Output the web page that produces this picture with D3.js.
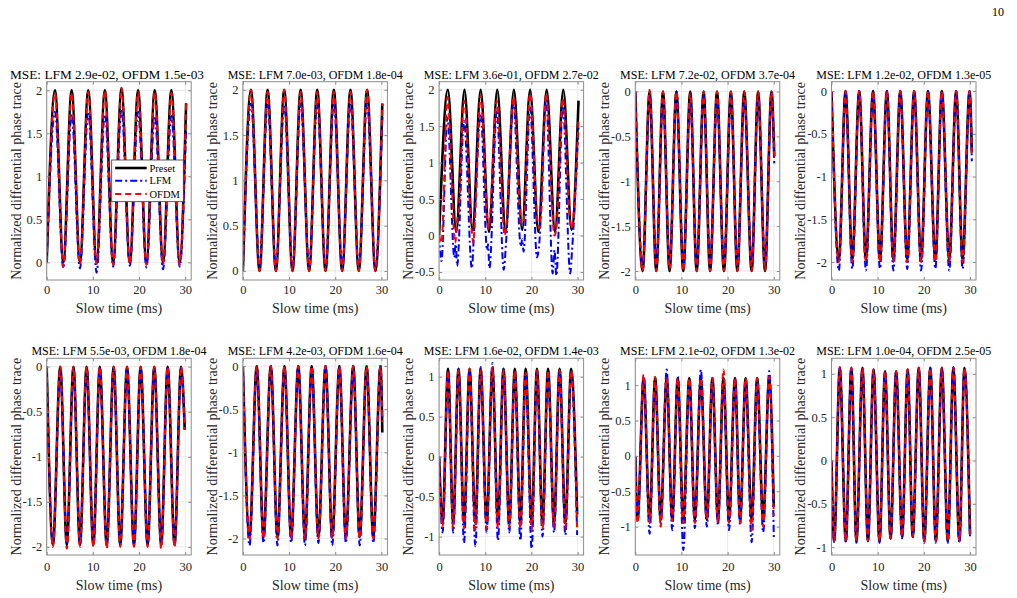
<!DOCTYPE html>
<html><head><meta charset="utf-8">
<script src="https://cdn.jsdelivr.net/npm/d3@7"></script>
<style>
body{margin:0;background:#fff}
svg{display:block}
text{font-family:"Liberation Serif","Times New Roman",serif}
</style>
</head><body>
<svg id="c" width="1017" height="598"></svg>
<script>
// ---------------- DATA ----------------
const seriesNames = ["Preset", "LFM", "OFDM"];
const titles = [
  "MSE: LFM 2.9e-02, OFDM 1.5e-03", "MSE: LFM 7.0e-03, OFDM 1.8e-04", "MSE: LFM 3.6e-01, OFDM 2.7e-02",
  "MSE: LFM 7.2e-02, OFDM 3.7e-04", "MSE: LFM 1.2e-02, OFDM 1.3e-05",
  "MSE: LFM 5.5e-03, OFDM 1.8e-04", "MSE: LFM 4.2e-03, OFDM 1.6e-04", "MSE: LFM 1.6e-02, OFDM 1.4e-03",
  "MSE: LFM 2.1e-02, OFDM 1.3e-02", "MSE: LFM 1.0e-04, OFDM 2.5e-05"
];
const xLabel = "Slow time (ms)";
const yLabel = "Normalized differential phase trace";
const xTicks = [0, 10, 20, 30];
const xLim = [0, 31.3];
const yLims = [[-0.205, 2.1], [-0.1, 2.09], [-0.61, 2.11], [-2.1, 0.11], [-2.21, 0.11],
               [-2.09, 0.093], [-2.19, 0.09], [-1.23, 1.23], [-1.4, 1.38], [-1.09, 1.18]];
const yTicks = [[0, 0.5, 1, 1.5, 2], [0, 0.5, 1, 1.5, 2], [-0.5, 0, 0.5, 1, 1.5, 2],
                [-2, -1.5, -1, -0.5, 0], [-2, -1.5, -1, -0.5, 0], [-2, -1.5, -1, -0.5, 0], [-2, -1.5, -1, -0.5, 0],
                [-1, -0.5, 0, 0.5, 1], [-1, -0.5, 0, 0.5, 1], [-1, -0.5, 0, 0.5, 1]];

// Panel 1
const t1 = [0,1.8,3.6,5.4,7.2,9.0,10.8,12.6,14.4,16.2,18.0,19.8,21.6,23.4,25.2,27.0,28.8,30.2];
const preset1 = [0,2.0,0.0,2.0,0.0,2.0,0.0,2.0,0.0,2.02,0.0,2.0,0.0,2.0,0.0,2.0,0.0,1.85];
const lfm1 = [0,1.75,-0.07,1.72,-0.07,1.75,-0.12,1.72,-0.05,1.78,-0.04,1.75,-0.06,1.7,-0.08,1.7,-0.05,1.55];
const ofdm1 = [0,1.97,-0.05,1.97,-0.02,1.98,-0.02,2.0,-0.03,2.03,-0.02,1.98,-0.03,1.98,-0.03,1.97,-0.03,1.85];
// Panel 2
const t2 = [0,1.75,3.6,5.35,7.15,8.95,10.75,12.5,14.35,16.1,17.9,19.7,21.5,23.3,25.1,26.9,28.7,30.2];
const preset2 = [0,2,0,2,0,2,0,2,0,2,0,2,0,2,0,2,0,1.85];
const lfm2 = [0,1.85,0.05,1.85,0.05,1.83,0.05,1.85,0.05,1.85,0.05,1.85,0.05,1.85,0.05,1.85,0.05,1.7];
const ofdm2 = [0,2.0,0.0,1.98,0.0,2.0,0.0,1.98,0.0,1.98,0.0,1.98,0.0,1.98,0.0,2.0,0.0,1.85];
// Panel 3 (noisy estimates, own sample times)
const t3 = [0,1.9,3.7,5.5,7.25,9.0,10.8,12.6,14.4,16.2,18.0,19.7,21.5,23.3,25.1,26.9,28.7,30.2];
const preset3 = [0,2,0.05,2,0.08,2,0.05,2,0.05,2,0.08,2,0.05,2,0.05,2,0.08,1.85];
const lfm3 = [[0,0],[0.5,-0.35],[1.8,1.62],[3.3,-0.3],[3.6,-0.12],[3.9,-0.42],[5.4,1.57],[7.1,-0.45],[7.6,0.1],[9.0,1.67],
  [10.4,-0.2],[10.6,-0.12],[10.9,-0.45],[12.5,1.72],[14.0,-0.47],[14.5,-0.1],[16.1,1.82],[17.7,-0.15],[18.0,-0.05],
  [18.3,-0.22],[19.7,1.77],[21.2,-0.3],[21.6,-0.18],[23.2,1.87],[24.6,-0.52],[25.0,-0.2],[25.4,-0.55],[26.8,1.78],
  [28.4,-0.52],[28.8,-0.2],[30.2,1.5]];
const ofdm3 = [[0,0],[0.5,-0.1],[1.8,1.9],[3.5,-0.1],[3.9,0.2],[4.2,0.3],[5.4,1.85],[7.1,0.05],[7.4,-0.1],[7.8,0.25],
  [9.0,1.92],[10.7,0.1],[11.0,0.25],[12.5,1.85],[14.2,0.0],[14.5,0.1],[16.1,1.9],[17.9,0.15],[18.3,0.2],[19.7,1.95],
  [21.3,0.2],[21.7,0.1],[22.1,0.3],[23.2,1.95],[25.0,0.0],[25.4,0.1],[26.8,1.88],[28.6,0.1],[29.0,0.2],[30.2,1.6]];
// Panel 4
const t4 = [0,1.58,3.1,4.54,6.0,7.42,8.9,10.4,11.9,13.3,14.8,16.2,17.7,19.2,20.7,22.1,23.6,25.2,26.6,28.1,29.5,30.1];
const preset4 = [0,-2,0,-2,0,-2,0,-2,0,-2,0,-2,0,-2,0,-2,0,-2,0,-2,0,-0.72];
const lfm4 = [0,-1.95,-0.05,-1.93,-0.08,-1.95,0,-1.93,-0.1,-1.95,-0.05,-1.95,-0.08,-1.93,-0.05,-1.95,-0.08,-1.9,-0.05,-1.93,-0.02,-0.8];
const ofdm4 = [0,-2,0.02,-2,0,-1.98,0,-2,-0.02,-2,0,-2,0,-2,0,-2,0,-2,0,-2,0,-0.72];
// Panel 5
const t5 = [0,1.59,3.04,4.5,6.0,7.46,9.0,10.5,12.0,13.4,14.9,16.4,17.9,19.4,20.9,22.5,23.9,25.5,27.0,28.4,29.9,30.4];
const preset5 = [0,-1.97,0,-1.97,0,-1.97,0,-1.97,0,-1.97,0,-1.97,0,-1.97,0,-1.97,0,-1.97,0,-1.97,0,-0.72];
const lfm5 = [0,-2.1,0,-2.08,0,-2.1,0,-2.08,0,-2.1,0,-2.08,0,-2.1,0,-2.08,0,-2.1,0,-2.08,0,-0.82];
const ofdm5 = [0,-2,0,-2,0,-2,0,-2,0,-2,0,-2,0,-2,0,-2,0,-2,0,-2,0,-0.72];
// Panel 6
const t6 = [0,1.35,2.93,4.36,5.79,7.21,8.64,10.1,11.5,13.0,14.5,15.93,17.4,18.9,20.35,21.86,23.3,24.8,26.2,27.7,29.1,29.9];
const preset6 = [0,-1.98,0,-1.98,0,-1.98,0,-1.98,0,-1.98,0,-1.98,0,-1.98,0,-1.98,0,-1.98,0,-1.98,0,-0.7];
const lfm6 = [0,-1.97,-0.02,-1.96,-0.02,-1.97,-0.02,-1.96,-0.02,-1.97,-0.02,-1.96,-0.02,-1.97,-0.02,-1.96,-0.02,-1.97,-0.02,-1.96,-0.02,-0.7];
const ofdm6 = [0,-2.0,0,-2.02,0,-2.0,0,-2.0,0,-2.02,0,-2.0,0,-2.0,0,-2.0,0,-2.02,0,-2.0,0,-0.7];
// Panel 7
const t7 = [0,1.44,3.0,4.46,6.04,7.48,9.0,10.45,12.0,13.45,14.9,16.35,17.9,19.35,20.9,22.3,23.9,25.3,26.8,28.25,29.8,30.2];
const preset7 = [0,-1.98,0,-1.98,0,-1.98,0,-1.98,0,-1.98,0,-1.98,0,-1.98,0,-1.98,0,-1.98,0,-1.98,0,-0.77];
const lfm7 = [0,-2.08,-0.02,-2.05,0,-2.08,-0.02,-2.05,0,-2.08,-0.02,-2.05,0,-2.08,-0.02,-2.05,0,-2.08,-0.02,-2.05,0,-0.6];
const ofdm7 = [0,-2.0,0,-2.0,0,-2.0,0,-2.0,0,-2.0,0,-2.0,0,-2.0,0,-2.0,0,-2.0,0,-2.0,0,-0.65];
// Panel 8
const t8 = [0,0.75,1.93,3.05,4.2,5.4,6.6,7.85,9.0,10.3,11.55,12.75,13.95,15.2,16.4,17.6,18.75,20.05,21.2,22.4,23.6,24.9,26.1,27.35,28.6,29.9];
const preset8 = [0,-0.83,1.1,-0.83,1.1,-0.83,1.1,-0.83,1.1,-0.83,1.1,-0.83,1.1,-0.83,1.1,-0.83,1.1,-0.83,1.1,-0.83,1.1,-0.83,1.1,-0.83,1.1,-0.72];
const lfm8 = [0,-0.95,1.05,-0.95,1.1,-1.08,1.1,-1.12,1.12,-0.95,1.17,-1.05,1.1,-0.95,1.05,-1.05,1.02,-1.15,1.05,-1.0,1.05,-0.95,1.08,-0.98,1.05,-0.98];
const ofdm8 = [0,-0.88,1.08,-0.9,1.08,-0.9,1.1,-0.92,1.08,-0.9,1.12,-0.9,1.08,-0.88,1.08,-0.9,1.05,-0.92,1.08,-0.9,1.08,-0.88,1.08,-0.9,1.08,-0.9];
// Panel 9
const t9 = [0,0.5,1.8,3.1,4.3,5.5,6.8,8.0,9.2,10.4,11.7,12.9,14.2,15.5,16.7,17.9,19.1,20.3,21.6,22.7,23.9,25.2,26.4,27.7,29.0,30.0];
const preset9 = [0,-0.9,1.1,-0.9,1.1,-0.9,1.1,-0.9,1.1,-0.9,1.1,-0.9,1.1,-0.9,1.1,-0.9,1.1,-0.9,1.1,-0.9,1.1,-0.9,1.1,-0.9,1.1,-0.72];
const lfm9 = [0,-0.9,1.12,-1.1,1.1,-0.96,1.22,-1.05,1.12,-1.33,1.05,-1.02,1.22,-1.0,1.08,-0.98,1.02,-1.05,1.08,-0.98,1.05,-1.22,1.05,-1.08,1.2,-1.15];
const ofdm9 = [0,-0.95,1.15,-0.95,1.12,-1.0,1.1,-0.92,1.1,-0.95,1.1,-0.95,1.1,-0.9,1.1,-0.95,1.22,-0.95,1.1,-0.95,1.1,-1.05,1.1,-1.0,1.12,-0.85];
// Panel 10
const t10 = [0,0.58,1.8,3.1,4.3,5.4,6.7,7.9,9.1,10.4,11.6,12.8,14.0,15.3,16.5,17.6,18.9,20.1,21.4,22.6,23.9,25.2,26.4,27.7,28.8,30.0];
const preset10 = [0,-0.93,1.07,-0.93,1.07,-0.93,1.07,-0.93,1.05,-0.93,1.03,-0.9,1.03,-0.88,1.05,-0.88,1.07,-0.93,1.07,-0.93,1.07,-0.93,1.07,-0.93,1.07,-0.85];
const lfm10 = [0,-0.95,1.07,-0.95,1.07,-0.95,1.05,-0.93,1.05,-0.95,1.02,-0.9,1.03,-0.9,1.05,-0.9,1.07,-0.95,1.07,-0.95,1.07,-0.95,1.08,-0.95,1.07,-0.88];
const ofdm10 = [0,-0.93,1.08,-0.93,1.07,-0.93,1.07,-0.93,1.05,-0.93,1.03,-0.9,1.03,-0.88,1.05,-0.88,1.07,-0.93,1.07,-0.93,1.07,-0.93,1.07,-0.93,1.07,-0.85];

const panelTimes = [t1, t2, t3, t4, t5, t6, t7, t8, t9, t10];
const presetVals = [preset1, preset2, preset3, preset4, preset5, preset6, preset7, preset8, preset9, preset10];
const lfmVals = [lfm1, lfm2, lfm3, lfm4, lfm5, lfm6, lfm7, lfm8, lfm9, lfm10];
const ofdmVals = [ofdm1, ofdm2, ofdm3, ofdm4, ofdm5, ofdm6, ofdm7, ofdm8, ofdm9, ofdm10];

// ---------------- LAYOUT / STYLE ----------------
const colLeft = [46.7, 242.9, 439.1, 635.3, 831.5];
const PW = 144.5;
const rowBox = [{T: 81.7, B: 280}, {T: 358.3, B: 555}];
const styles = [
  {color: "#000000", width: 2.6, dash: null},
  {color: "#0000ff", width: 2, dash: "7,3,2,3"},
  {color: "#ff0000", width: 2, dash: "6,4"}
];
const axisColor = "#8c8c8c", textColor = "#262626";

const svg = d3.select("#c");
svg.append("text").attr("x", 1004).attr("y", 16).attr("text-anchor", "end")
  .attr("font-size", 12).attr("fill", "#000").text("10");

function toPairs(times, vals) {
  if (Array.isArray(vals[0])) return vals;
  return vals.map((v, i) => [times[i], v]);
}

for (let i = 0; i < 10; i++) {
  const col = i % 5, row = Math.floor(i / 5);
  const L = colLeft[col], R = L + PW, T = rowBox[row].T, B = rowBox[row].B;
  const x = d3.scaleLinear().domain(xLim).range([L, R]);
  const y = d3.scaleLinear().domain(yLims[i]).range([B, T]);
  const g = svg.append("g");

  // grid
  g.append("g").selectAll("line").data(xTicks).join("line")
    .attr("x1", d => x(d)).attr("x2", d => x(d)).attr("y1", T).attr("y2", B)
    .attr("stroke", "#e3e3e3").attr("stroke-width", 0.8);
  g.append("g").selectAll("line").data(yTicks[i]).join("line")
    .attr("x1", L).attr("x2", R).attr("y1", d => y(d)).attr("y2", d => y(d))
    .attr("stroke", "#e3e3e3").attr("stroke-width", 0.8);

  // clip
  const cid = "clip" + i;
  svg.append("clipPath").attr("id", cid).append("rect")
    .attr("x", L).attr("y", T).attr("width", PW).attr("height", B - T);

  const line = d3.line().x(d => x(d[0])).y(d => y(d[1])).curve(d3.curveMonotoneX);
  const sets = [presetVals[i], lfmVals[i], ofdmVals[i]];
  const lg = g.append("g").attr("clip-path", `url(#${cid})`);
  sets.forEach((vals, k) => {
    lg.append("path").datum(toPairs(panelTimes[i], vals))
      .attr("d", line).attr("fill", "none")
      .attr("stroke", styles[k].color).attr("stroke-width", styles[k].width)
      .attr("stroke-dasharray", styles[k].dash)
      .attr("stroke-linejoin", "round");
  });

  // axes
  const ax = g.append("g").attr("transform", `translate(0,${B})`)
    .call(d3.axisBottom(x).tickValues(xTicks).tickSizeInner(-3).tickSizeOuter(0).tickPadding(row === 0 ? 5.5 : 7).tickFormat(d3.format("d")));
  const ay = g.append("g").attr("transform", `translate(${L},0)`)
    .call(d3.axisLeft(y).tickValues(yTicks[i]).tickSizeInner(-3).tickSizeOuter(0).tickPadding(4.5).tickFormat(d => String(d)));
  const axT = g.append("g").attr("transform", `translate(0,${T})`)
    .call(d3.axisTop(x).tickValues(xTicks).tickSizeInner(-3).tickSizeOuter(0).tickFormat(""));
  const ayR = g.append("g").attr("transform", `translate(${R},0)`)
    .call(d3.axisRight(y).tickValues(yTicks[i]).tickSizeInner(-3).tickSizeOuter(0).tickFormat(""));
  [ax, ay, axT, ayR].forEach(a => {
    a.attr("font-family", null).attr("font-size", 12.5);
    a.select(".domain").remove();
    a.selectAll(".tick line").attr("stroke", axisColor);
    a.selectAll(".tick text").attr("fill", textColor);
  });
  ax.selectAll(".tick text").attr("dy", "0.71em");

  g.append("rect").attr("x", L).attr("y", T).attr("width", PW).attr("height", B - T)
    .attr("fill", "none").attr("stroke", axisColor).attr("stroke-width", 1);

  // labels
  g.append("text").attr("x", (L + R) / 2).attr("y", B + (row === 0 ? 32.5 : 34.5)).attr("text-anchor", "middle")
    .attr("font-size", 14).attr("fill", textColor).text(xLabel);
  g.append("text").attr("transform", `translate(${L - 31},${(T + B) / 2}) rotate(-90)`)
    .attr("dy", "0.35em").attr("text-anchor", "middle").attr("font-size", 14).attr("fill", textColor).text(yLabel);
  const big = i === 0;
  g.append("text").attr("x", big ? 107 : (L + R) / 2).attr("y", T - 3)
    .attr("text-anchor", "middle").attr("font-size", big ? 13.3 : 12).attr("fill", "#000").text(titles[i]);

  // legend
  if (i === 0) {
    const lgX = 111.7, lgY = 160;
    g.append("rect").attr("x", lgX).attr("y", lgY).attr("width", 71.6).attr("height", 41.7)
      .attr("fill", "#fff").attr("stroke", "#333").attr("stroke-width", 0.8);
    const ys = [168, 180.8, 194];
    seriesNames.forEach((nm, k) => {
      g.append("line").attr("x1", lgX + 3.5).attr("x2", lgX + 35).attr("y1", ys[k]).attr("y2", ys[k])
        .attr("stroke", styles[k].color).attr("stroke-width", styles[k].width)
        .attr("stroke-dasharray", styles[k].dash);
      g.append("text").attr("x", lgX + 37.8).attr("y", ys[k]).attr("dy", "0.35em")
        .attr("font-size", 10.5).attr("fill", "#000").text(nm);
    });
  }
}
</script>
</body></html>
